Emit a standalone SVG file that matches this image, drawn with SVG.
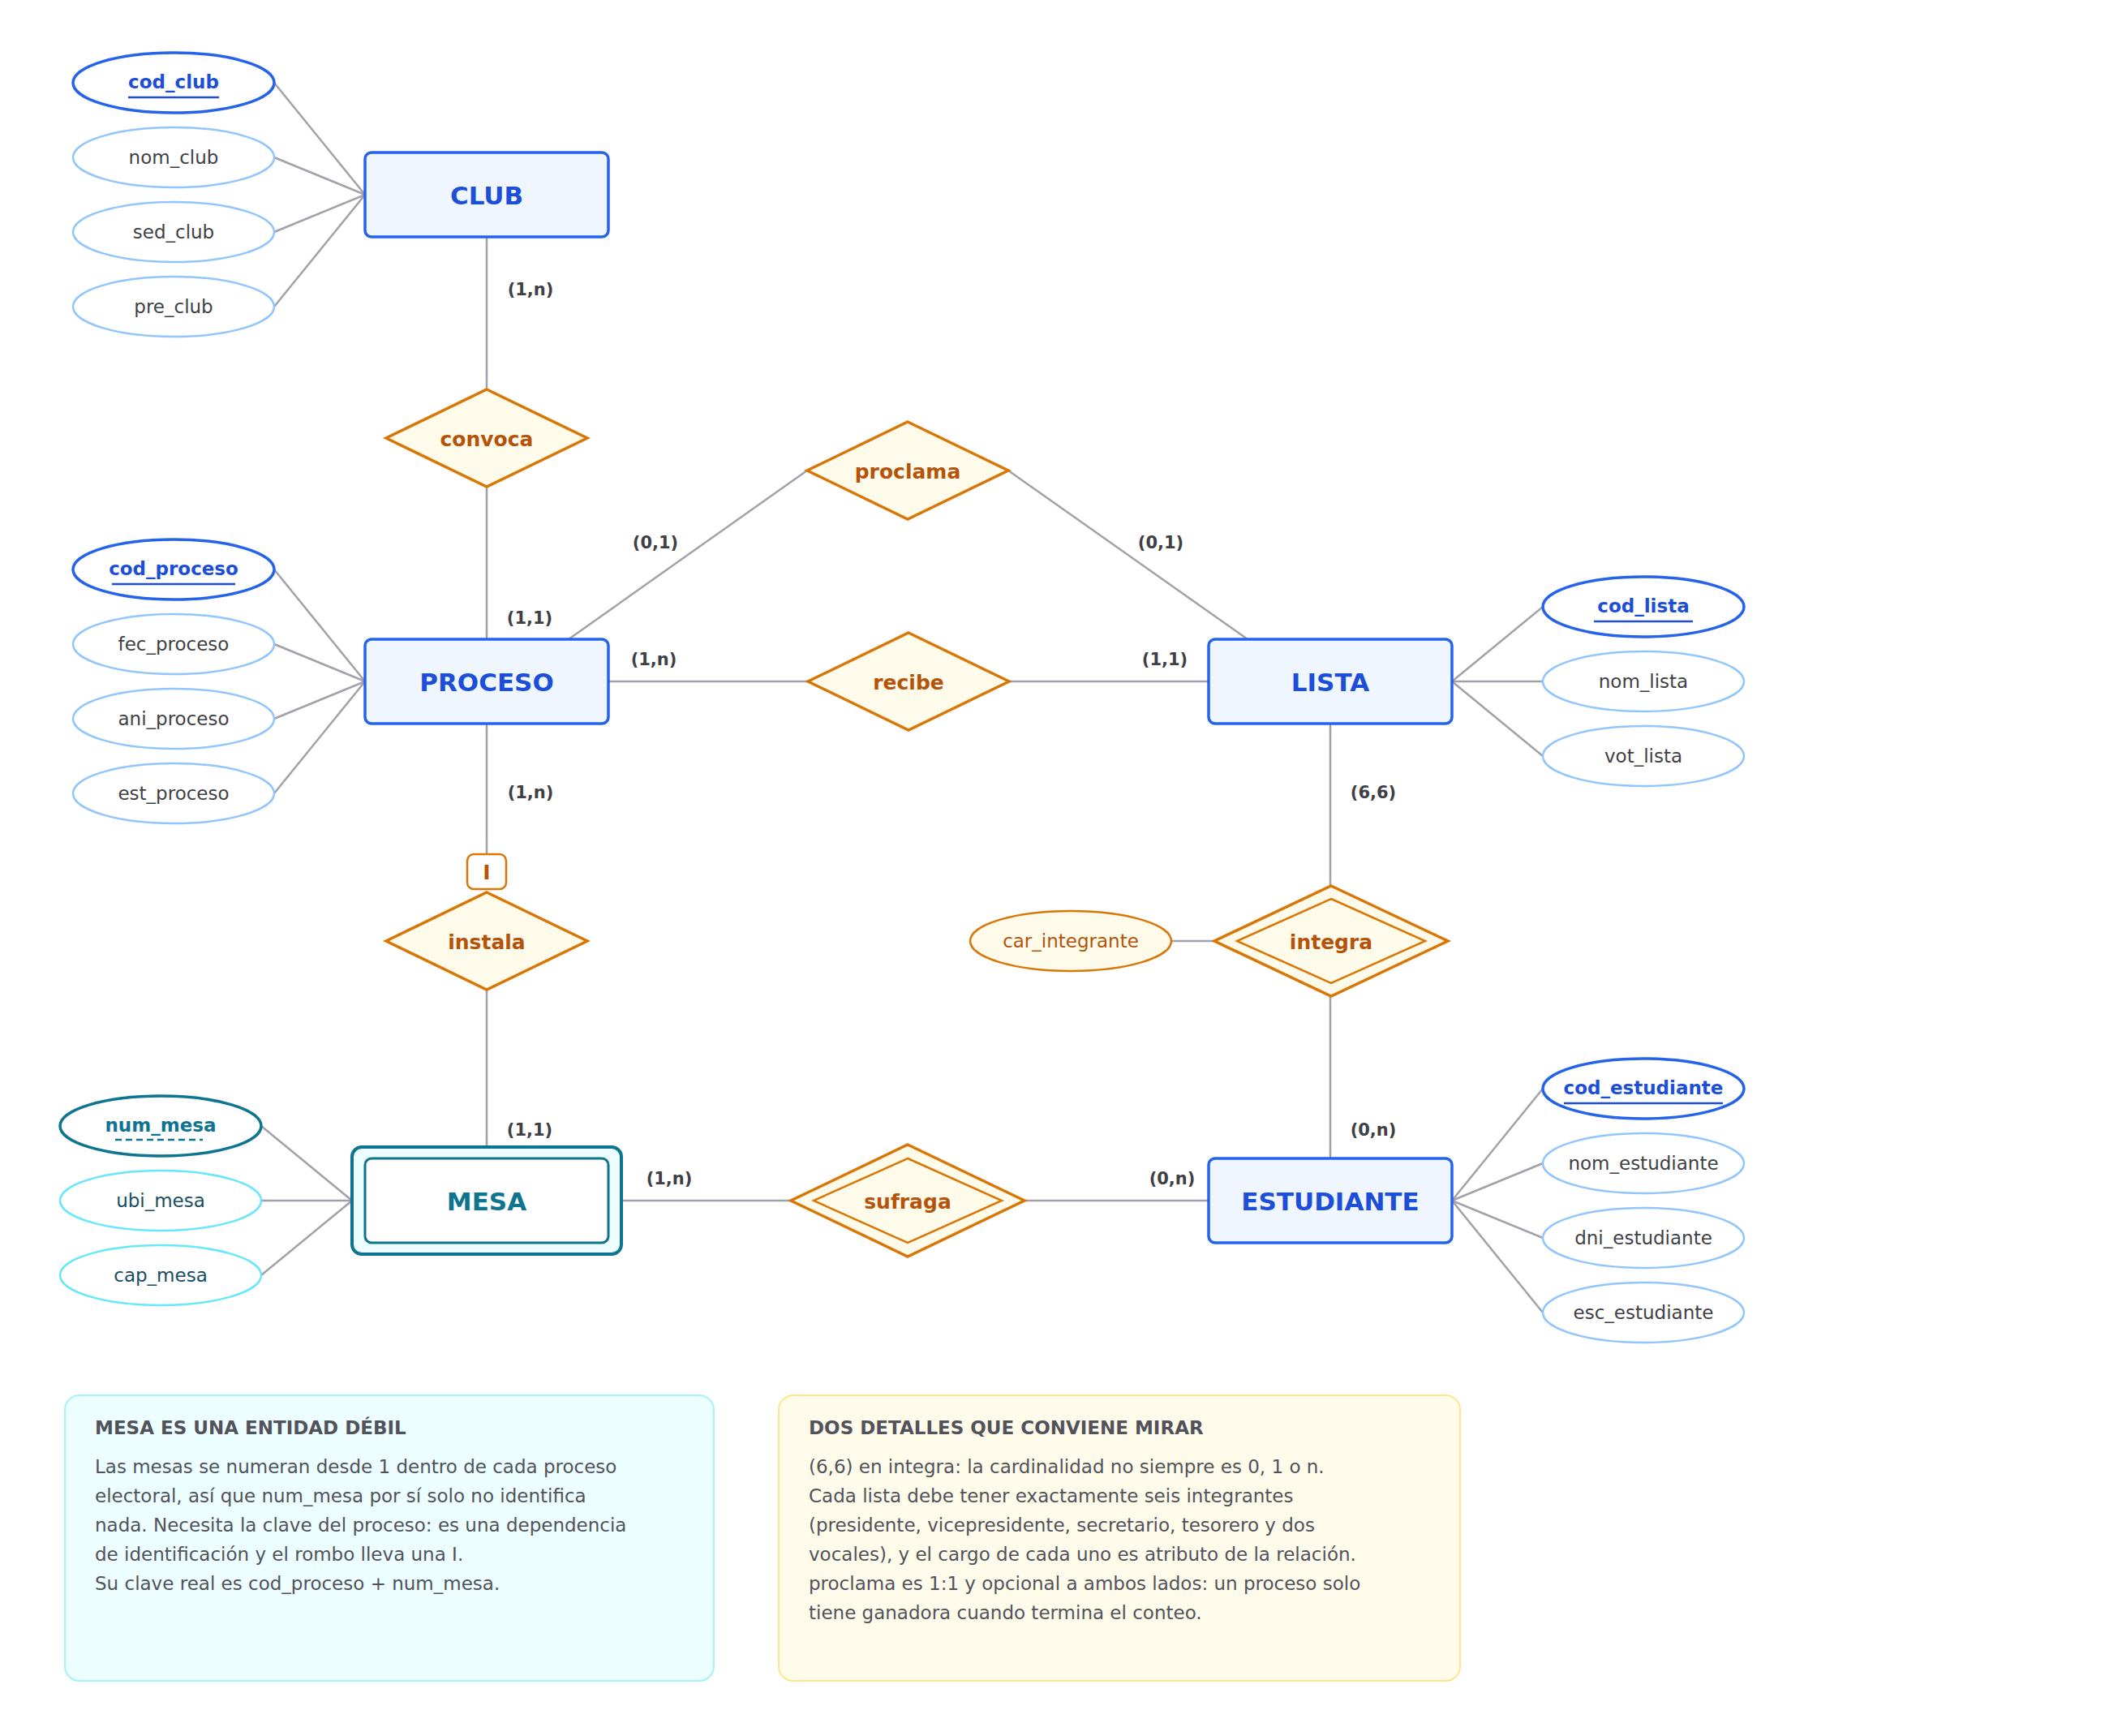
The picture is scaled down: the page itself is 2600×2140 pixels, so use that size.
<svg xmlns="http://www.w3.org/2000/svg" width="2600" height="2140" viewBox="0 0 2600 2140">
<style>
text{font-family:"DejaVu Sans","Liberation Sans",sans-serif;dominant-baseline:central;text-anchor:middle}
.ent rect{fill:#eff6ff;stroke:#2563eb;stroke-width:3.5}
.ent text{fill:#1d4ed8;font-size:31px;font-weight:bold}
.att ellipse{fill:#fff;stroke:#93c5fd;stroke-width:2.5}
.att text{fill:#3f3f46;font-size:23px}
.key ellipse{fill:#fff;stroke:#2563eb;stroke-width:3.5}
.key text{fill:#1d4ed8;font-size:23px;font-weight:bold}
.key line{stroke:#1d4ed8;stroke-width:2.5}
.rel polygon{fill:#fffbeb;stroke:#d97706;stroke-width:3.5}
.rel polygon.in{stroke-width:2.5}
.rel text{fill:#b45309;font-size:25px;font-weight:bold}
.watt ellipse{fill:#fff;stroke:#67e8f9;stroke-width:2.5}
.watt text{fill:#164e63;font-size:23px}
.wkey ellipse{fill:#fff;stroke:#0e7490;stroke-width:3.5}
.wkey text{fill:#0e7490;font-size:23px;font-weight:bold}
.wkey line{stroke:#0e7490;stroke-width:2.5;stroke-dasharray:8 5}
#connectors line{stroke:#a1a1aa;stroke-width:2.5}
.card{fill:#3f3f46;font-size:21px;font-weight:bold}
.note-t{fill:#52525b;font-size:23px;font-weight:bold;text-anchor:start}
.note-b{fill:#52525b;font-size:23px;text-anchor:start}
</style>

<g id="connectors">
<line x1="338" y1="102" x2="450" y2="240"/>
<line x1="338" y1="194" x2="450" y2="240"/>
<line x1="338" y1="286" x2="450" y2="240"/>
<line x1="338" y1="378" x2="450" y2="240"/>
<line x1="338" y1="702" x2="450" y2="840"/>
<line x1="338" y1="794" x2="450" y2="840"/>
<line x1="338" y1="886" x2="450" y2="840"/>
<line x1="338" y1="978" x2="450" y2="840"/>
<line x1="1790" y1="840" x2="1902" y2="748"/>
<line x1="1790" y1="840" x2="1902" y2="840"/>
<line x1="1790" y1="840" x2="1902" y2="932"/>
<line x1="1790" y1="1480" x2="1902" y2="1342"/>
<line x1="1790" y1="1480" x2="1902" y2="1434"/>
<line x1="1790" y1="1480" x2="1902" y2="1526"/>
<line x1="1790" y1="1480" x2="1902" y2="1618"/>
<line x1="322" y1="1388" x2="434" y2="1480"/>
<line x1="322" y1="1480" x2="434" y2="1480"/>
<line x1="322" y1="1572" x2="434" y2="1480"/>
<line x1="600" y1="292" x2="600" y2="480"/>
<line x1="600" y1="600" x2="600" y2="788"/>
<line x1="701" y1="788" x2="995" y2="580"/>
<line x1="1243" y1="580" x2="1538" y2="788"/>
<line x1="750" y1="840" x2="996" y2="840"/>
<line x1="1244" y1="840" x2="1490" y2="840"/>
<line x1="600" y1="892" x2="600" y2="1052"/>
<line x1="600" y1="1220" x2="600" y2="1414"/>
<line x1="766" y1="1480" x2="975" y2="1480"/>
<line x1="1263" y1="1480" x2="1490" y2="1480"/>
<line x1="1640" y1="892" x2="1640" y2="1092"/>
<line x1="1640" y1="1228" x2="1640" y2="1428"/>
<line x1="1444" y1="1160" x2="1497" y2="1160"/>
</g>

<g id="cards">
<text class="card" x="654" y="357">(1,n)</text>
<text class="card" x="653" y="762">(1,1)</text>
<text class="card" x="808" y="669">(0,1)</text>
<text class="card" x="1431" y="669">(0,1)</text>
<text class="card" x="806" y="813">(1,n)</text>
<text class="card" x="1436" y="813">(1,1)</text>
<text class="card" x="1693" y="977">(6,6)</text>
<text class="card" x="654" y="977">(1,n)</text>
<text class="card" x="653" y="1393">(1,1)</text>
<text class="card" x="825" y="1453">(1,n)</text>
<text class="card" x="1445" y="1453">(0,n)</text>
<text class="card" x="1693" y="1393">(0,n)</text>
</g>

<g id="club" class="ent"><rect x="450" y="188" width="300" height="104" rx="8"/><text x="600" y="241">CLUB</text></g>
<g id="proceso" class="ent"><rect x="450" y="788" width="300" height="104" rx="8"/><text x="600" y="841">PROCESO</text></g>
<g id="lista" class="ent"><rect x="1490" y="788" width="300" height="104" rx="8"/><text x="1640" y="841">LISTA</text></g>
<g id="estudiante" class="ent"><rect x="1490" y="1428" width="300" height="104" rx="8"/><text x="1640" y="1481">ESTUDIANTE</text></g>
<g id="mesa">
<rect x="434" y="1414" width="332" height="132" rx="12" fill="#ecfeff" stroke="#0e7490" stroke-width="4"/>
<rect x="450" y="1428" width="300" height="104" rx="8" fill="#fff" stroke="#0e7490" stroke-width="3"/>
<text x="600" y="1481" fill="#0e7490" font-size="31" font-weight="bold">MESA</text>
</g>

<g id="cod_club" class="key"><ellipse cx="214" cy="102" rx="124" ry="37"/><text x="214" y="101">cod_club</text><line x1="158" y1="120" x2="270" y2="120"/></g>
<g id="nom_club" class="att"><ellipse cx="214" cy="194" rx="124" ry="37"/><text x="214" y="194">nom_club</text></g>
<g id="sed_club" class="att"><ellipse cx="214" cy="286" rx="124" ry="37"/><text x="214" y="286">sed_club</text></g>
<g id="pre_club" class="att"><ellipse cx="214" cy="378" rx="124" ry="37"/><text x="214" y="378">pre_club</text></g>

<g id="cod_proceso" class="key"><ellipse cx="214" cy="702" rx="124" ry="37"/><text x="214" y="701">cod_proceso</text><line x1="138" y1="720" x2="290" y2="720"/></g>
<g id="fec_proceso" class="att"><ellipse cx="214" cy="794" rx="124" ry="37"/><text x="214" y="794">fec_proceso</text></g>
<g id="ani_proceso" class="att"><ellipse cx="214" cy="886" rx="124" ry="37"/><text x="214" y="886">ani_proceso</text></g>
<g id="est_proceso" class="att"><ellipse cx="214" cy="978" rx="124" ry="37"/><text x="214" y="978">est_proceso</text></g>

<g id="cod_lista" class="key"><ellipse cx="2026" cy="748" rx="124" ry="37"/><text x="2026" y="747">cod_lista</text><line x1="1965" y1="766" x2="2087" y2="766"/></g>
<g id="nom_lista" class="att"><ellipse cx="2026" cy="840" rx="124" ry="37"/><text x="2026" y="840">nom_lista</text></g>
<g id="vot_lista" class="att"><ellipse cx="2026" cy="932" rx="124" ry="37"/><text x="2026" y="932">vot_lista</text></g>

<g id="cod_estudiante" class="key"><ellipse cx="2026" cy="1342" rx="124" ry="37"/><text x="2026" y="1341">cod_estudiante</text><line x1="1928" y1="1360" x2="2124" y2="1360"/></g>
<g id="nom_estudiante" class="att"><ellipse cx="2026" cy="1434" rx="124" ry="37"/><text x="2026" y="1434">nom_estudiante</text></g>
<g id="dni_estudiante" class="att"><ellipse cx="2026" cy="1526" rx="124" ry="37"/><text x="2026" y="1526">dni_estudiante</text></g>
<g id="esc_estudiante" class="att"><ellipse cx="2026" cy="1618" rx="124" ry="37"/><text x="2026" y="1618">esc_estudiante</text></g>

<g id="num_mesa" class="wkey"><ellipse cx="198" cy="1388" rx="124" ry="37"/><text x="198" y="1387">num_mesa</text><line x1="142" y1="1405" x2="250" y2="1405"/></g>
<g id="ubi_mesa" class="watt"><ellipse cx="198" cy="1480" rx="124" ry="37"/><text x="198" y="1480">ubi_mesa</text></g>
<g id="cap_mesa" class="watt"><ellipse cx="198" cy="1572" rx="124" ry="37"/><text x="198" y="1572">cap_mesa</text></g>

<g id="car_integrante"><ellipse cx="1320" cy="1160" rx="124" ry="37" fill="#fffbeb" stroke="#d97706" stroke-width="2.5"/><text x="1320" y="1160" fill="#b45309" font-size="23">car_integrante</text></g>

<g id="convoca" class="rel"><polygon points="600,480 724,540 600,600 476,540"/><text x="600" y="541">convoca</text></g>
<g id="proclama" class="rel"><polygon points="1119,520 1243,580 1119,640 995,580"/><text x="1119" y="581">proclama</text></g>
<g id="recibe" class="rel"><polygon points="1120,780 1244,840 1120,900 996,840"/><text x="1120" y="841">recibe</text></g>
<g id="instala" class="rel">
<polygon points="600,1100 724,1160 600,1220 476,1160"/>
<rect x="576" y="1053" width="48" height="43" rx="8" fill="#fff" stroke="#d97706" stroke-width="2.5"/>
<text x="600" y="1075">I</text>
<text x="600" y="1161">instala</text>
</g>
<g id="integra" class="rel">
<polygon points="1641,1092 1785,1160 1641,1228 1497,1160"/>
<polygon class="in" points="1641,1108 1757,1160 1641,1212 1525,1160"/>
<text x="1641" y="1161">integra</text>
</g>
<g id="sufraga" class="rel">
<polygon points="1119,1411 1263,1480 1119,1549 975,1480"/>
<polygon class="in" points="1119,1428 1235,1480 1119,1532 1003,1480"/>
<text x="1119" y="1481">sufraga</text>
</g>

<g id="note-mesa">
<rect x="80" y="1720" width="800" height="352" rx="18" fill="#ecfeff" stroke="#a5f3fc" stroke-width="2"/>
<text class="note-t" x="117" y="1760">MESA ES UNA ENTIDAD DÉBIL</text>
<text class="note-b" x="117" y="1808">Las mesas se numeran desde 1 dentro de cada proceso</text>
<text class="note-b" x="117" y="1844">electoral, así que num_mesa por sí solo no identifica</text>
<text class="note-b" x="117" y="1880">nada. Necesita la clave del proceso: es una dependencia</text>
<text class="note-b" x="117" y="1916">de identificación y el rombo lleva una I.</text>
<text class="note-b" x="117" y="1952">Su clave real es cod_proceso + num_mesa.</text>
</g>

<g id="note-detalles">
<rect x="960" y="1720" width="840" height="352" rx="18" fill="#fefbea" stroke="#fde68a" stroke-width="2"/>
<text class="note-t" x="997" y="1760">DOS DETALLES QUE CONVIENE MIRAR</text>
<text class="note-b" x="997" y="1808">(6,6) en integra: la cardinalidad no siempre es 0, 1 o n.</text>
<text class="note-b" x="997" y="1844">Cada lista debe tener exactamente seis integrantes</text>
<text class="note-b" x="997" y="1880">(presidente, vicepresidente, secretario, tesorero y dos</text>
<text class="note-b" x="997" y="1916">vocales), y el cargo de cada uno es atributo de la relación.</text>
<text class="note-b" x="997" y="1952">proclama es 1:1 y opcional a ambos lados: un proceso solo</text>
<text class="note-b" x="997" y="1988">tiene ganadora cuando termina el conteo.</text>
</g>
</svg>
